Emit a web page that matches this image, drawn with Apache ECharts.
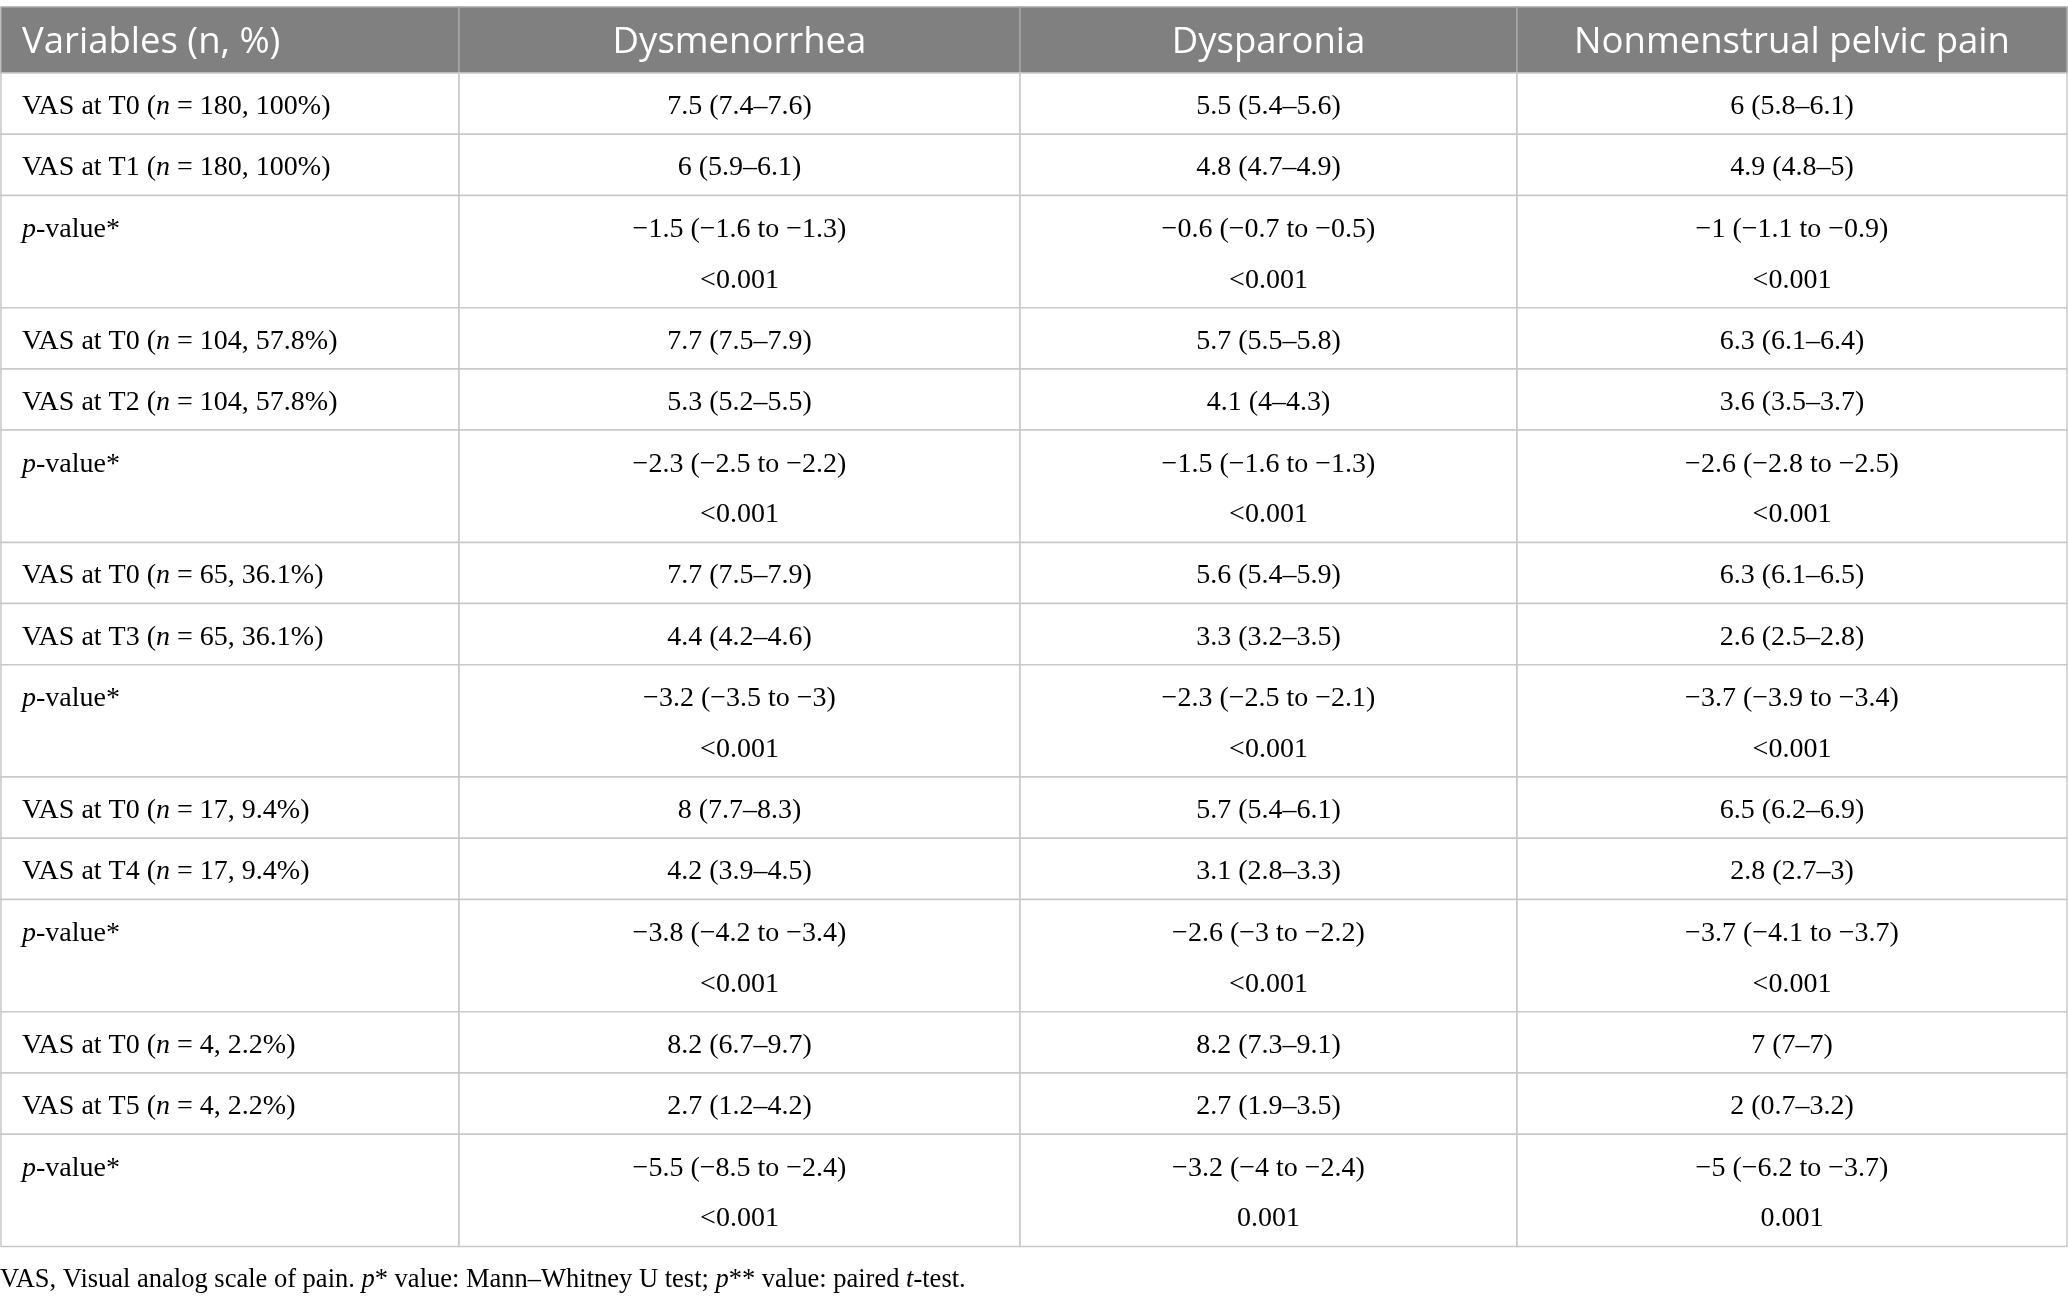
<!DOCTYPE html>
<html lang="en">
<head>
    <meta charset="UTF-8">
    <title>VAS table</title>
    <script src="https://cdn.jsdelivr.net/npm/echarts@6/dist/echarts.min.js"></script>
    <style>
        *{
            margin: 0;
            padding: 0;
        }
        body{
            width: 100%;
            height: 100%;
            overflow: hidden;
            background: #fff;
        }
        .container{
            width: 2068px;
            height: 1301px;
        }
    </style>
</head>
<body>
<div class="container"></div>
<script>
    // table content
    let columns = ['Variables (n, %)', 'Dysmenorrhea', 'Dysparonia', 'Nonmenstrual pelvic pain'];
    let timepoints = ['T1', 'T2', 'T3', 'T4', 'T5'];
    let groupN = [180, 104, 65, 17, 4];
    let groupPct = ['100%', '57.8%', '36.1%', '9.4%', '2.2%'];

    let dysmenorrheaT0 = ['7.5 (7.4–7.6)', '7.7 (7.5–7.9)', '7.7 (7.5–7.9)', '8 (7.7–8.3)', '8.2 (6.7–9.7)'];
    let dysmenorrheaFollow = ['6 (5.9–6.1)', '5.3 (5.2–5.5)', '4.4 (4.2–4.6)', '4.2 (3.9–4.5)', '2.7 (1.2–4.2)'];
    let dysmenorrheaDiff = ['−1.5 (−1.6 to −1.3)', '−2.3 (−2.5 to −2.2)', '−3.2 (−3.5 to −3)', '−3.8 (−4.2 to −3.4)', '−5.5 (−8.5 to −2.4)'];
    let dysmenorrheaP = ['<0.001', '<0.001', '<0.001', '<0.001', '<0.001'];

    let dysparoniaT0 = ['5.5 (5.4–5.6)', '5.7 (5.5–5.8)', '5.6 (5.4–5.9)', '5.7 (5.4–6.1)', '8.2 (7.3–9.1)'];
    let dysparoniaFollow = ['4.8 (4.7–4.9)', '4.1 (4–4.3)', '3.3 (3.2–3.5)', '3.1 (2.8–3.3)', '2.7 (1.9–3.5)'];
    let dysparoniaDiff = ['−0.6 (−0.7 to −0.5)', '−1.5 (−1.6 to −1.3)', '−2.3 (−2.5 to −2.1)', '−2.6 (−3 to −2.2)', '−3.2 (−4 to −2.4)'];
    let dysparoniaP = ['<0.001', '<0.001', '<0.001', '<0.001', '0.001'];

    let pelvicT0 = ['6 (5.8–6.1)', '6.3 (6.1–6.4)', '6.3 (6.1–6.5)', '6.5 (6.2–6.9)', '7 (7–7)'];
    let pelvicFollow = ['4.9 (4.8–5)', '3.6 (3.5–3.7)', '2.6 (2.5–2.8)', '2.8 (2.7–3)', '2 (0.7–3.2)'];
    let pelvicDiff = ['−1 (−1.1 to −0.9)', '−2.6 (−2.8 to −2.5)', '−3.7 (−3.9 to −3.4)', '−3.7 (−4.1 to −3.7)', '−5 (−6.2 to −3.7)'];
    let pelvicP = ['<0.001', '<0.001', '<0.001', '<0.001', '0.001'];

    // layout (pixel units of the axes)
    let colEdges = [1, 459, 1020, 1517, 2067];
    let headerTop = 7, headerBottom = 73;
    let singleH = 61.2, doubleH = 112.3;

    let container = document.querySelector('.container');
    let mycharts = echarts.init(container);

    let valueCols = [
        [dysmenorrheaT0, dysmenorrheaFollow, dysmenorrheaDiff, dysmenorrheaP],
        [dysparoniaT0, dysparoniaFollow, dysparoniaDiff, dysparoniaP],
        [pelvicT0, pelvicFollow, pelvicDiff, pelvicP]
    ];

    // build the cells
    let cells = [];
    columns.forEach((c, ci) => {
        cells.push({col: ci, y0: headerTop, y1: headerBottom, header: true, lines: [c]});
    });
    let y = headerBottom;
    timepoints.forEach((tp, g) => {
        let rows = [
            {label: '{r|VAS at T0 (}{i|n}{r| = ' + groupN[g] + ', ' + groupPct[g] + ')}', k: 0, h: singleH},
            {label: '{r|VAS at ' + tp + ' (}{i|n}{r| = ' + groupN[g] + ', ' + groupPct[g] + ')}', k: 1, h: singleH},
            {label: '{i|p}{r|-value*}', k: 2, h: doubleH}
        ];
        rows.forEach(r => {
            cells.push({col: 0, y0: y, y1: y + r.h, lines: [r.label], left: true, double: r.k == 2});
            valueCols.forEach((vc, vi) => {
                let lines = r.k == 2 ? [vc[2][g], vc[3][g]] : [vc[r.k][g]];
                cells.push({col: vi + 1, y0: y, y1: y + r.h, lines, double: r.k == 2});
            });
            y += r.h;
        });
    });

    let serif = '"Liberation Serif", "DejaVu Serif", serif';
    let richBody = {
        r: {fontFamily: serif, fontSize: 28, color: '#1e1e1e'},
        i: {fontFamily: serif, fontSize: 28, fontStyle: 'italic', color: '#1e1e1e'}
    };

    function renderItem(params, api) {
        let cell = cells[params.dataIndex];
        let p0 = api.coord([colEdges[cell.col], cell.y0]);
        let p1 = api.coord([colEdges[cell.col + 1], cell.y1]);
        let children = [{
            type: 'rect',
            shape: {x: p0[0], y: p0[1], width: p1[0] - p0[0], height: p1[1] - p0[1]},
            style: {fill: cell.header ? '#808080' : '#fff', stroke: cell.header ? '#a6a6a6' : '#c8c8c8', lineWidth: 1.5}
        }];
        let h = p1[1] - p0[1];
        let offs = cell.double ? [h * 0.305, h * 0.755] : [h / 2 + 3];
        if (cell.left && cell.double) offs = [h * 0.305];
        cell.lines.forEach((t, li) => {
            let tx = cell.left ? p0[0] + 21 : (p0[0] + p1[0]) / 2;
            if (cell.header && cell.col == 0) tx = p0[0] + 21;
            children.push({
                type: 'text',
                style: cell.header ? {
                    x: tx, y: p0[1] + h / 2 + 3,
                    text: t,
                    fill: '#fff',
                    font: '36.5px "Open Sans", "Noto Sans", sans-serif',
                    align: cell.col == 0 ? 'left' : 'center',
                    verticalAlign: 'middle'
                } : {
                    x: tx, y: p0[1] + offs[li],
                    text: cell.left ? t : '{r|' + t + '}',
                    rich: richBody,
                    align: cell.left ? 'left' : 'center',
                    verticalAlign: 'middle'
                }
            });
        });
        return {type: 'group', children};
    }

    let options = {
        animation: false,
        backgroundColor: '#fff',
        grid: {left: 0, right: 0, top: 0, bottom: 0},
        xAxis: {type: 'value', min: 0, max: 2068, show: false},
        yAxis: {type: 'value', min: 0, max: 1301, inverse: true, show: false},
        series: [{
            type: 'custom',
            renderItem,
            data: cells.map(c => [colEdges[c.col], c.y0]),
            silent: true
        }],
        graphic: [{
            type: 'text',
            left: 0,
            top: 1267,
            style: {
                text: '{r|VAS, Visual analog scale of pain. }{i|p}{r|* value: Mann–Whitney U test; }{i|p}{r|** value: paired }{i|t}{r|-test.}',
                rich: {
                    r: {fontFamily: serif, fontSize: 26.5, color: '#1e1e1e'},
                    i: {fontFamily: serif, fontSize: 26.5, fontStyle: 'italic', color: '#1e1e1e'}
                }
            }
        }]
    };

    mycharts.setOption(options);
</script>
</body>
</html>
